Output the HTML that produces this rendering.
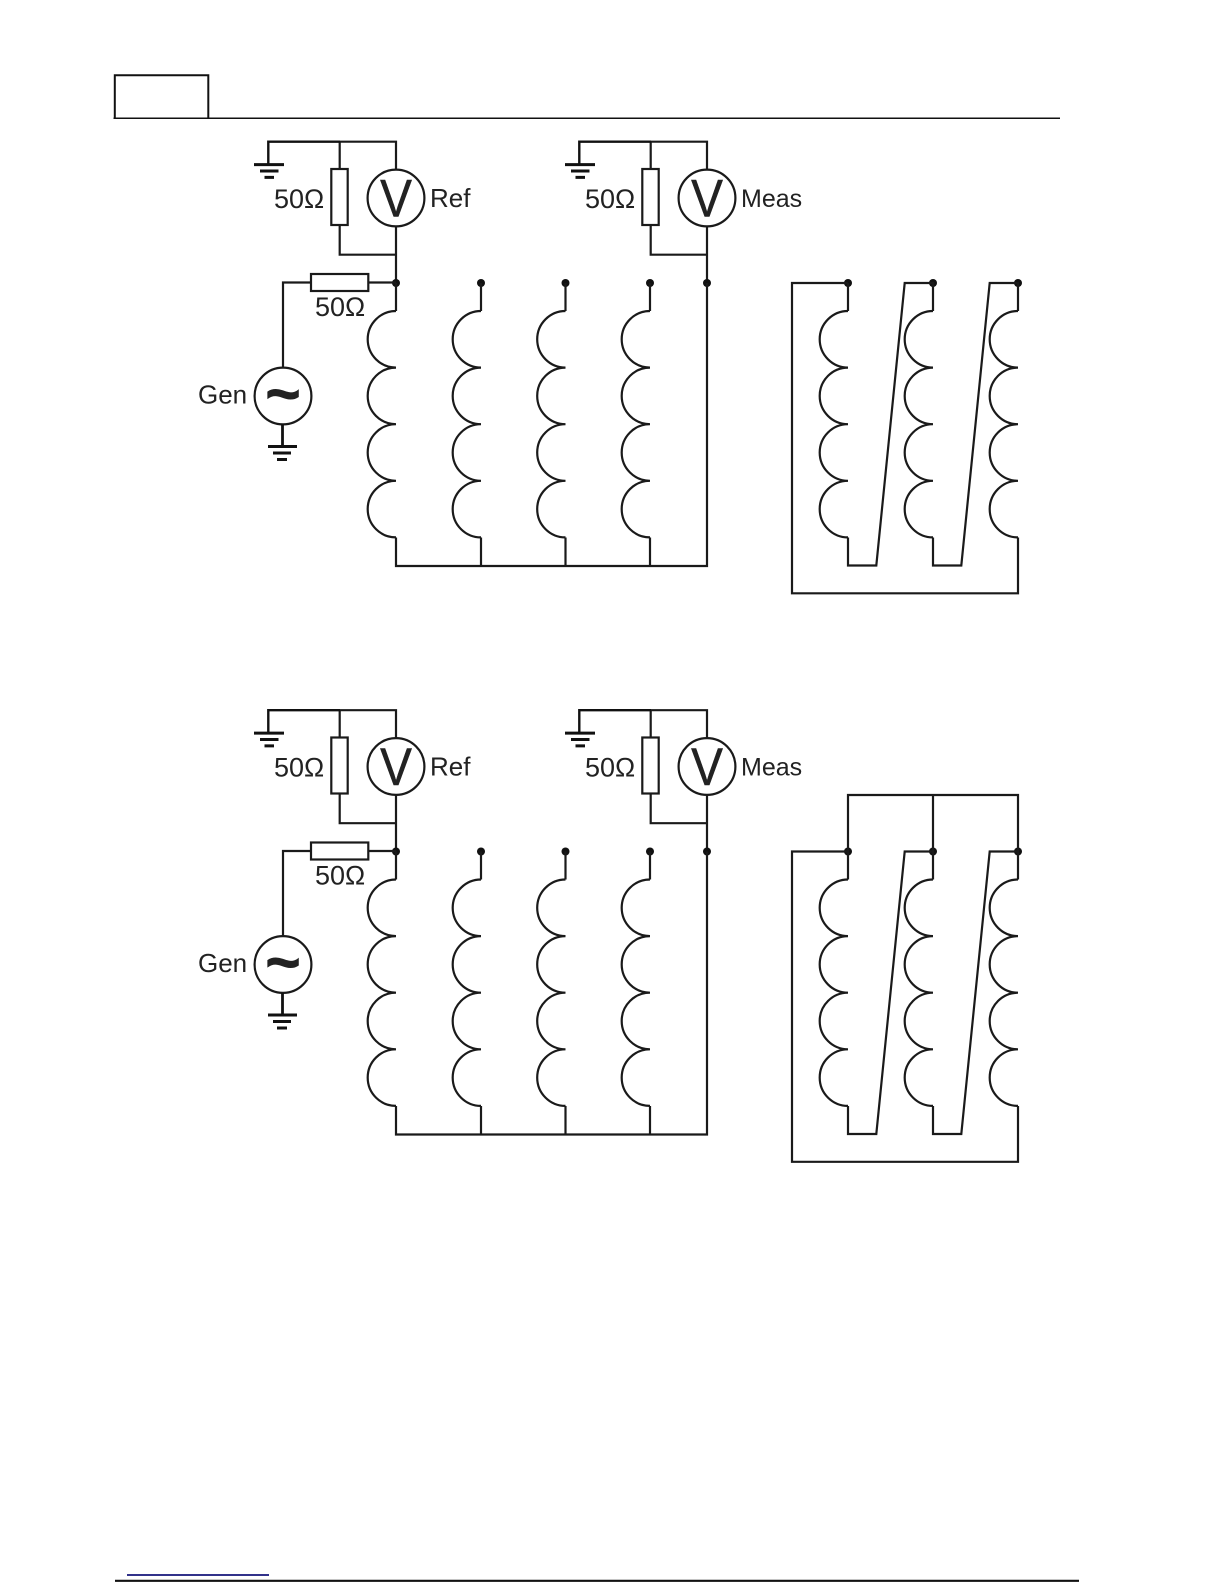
<!DOCTYPE html>
<html><head><meta charset="utf-8"><style>
html,body{margin:0;padding:0;background:#fff;width:1224px;height:1584px;overflow:hidden}
svg{display:block}
text{font-family:"Liberation Sans",sans-serif;fill:#222}
.w{fill:none;stroke:#1a1a1a;stroke-width:2.2}
.g{fill:none;stroke:#111;stroke-width:3}
</style></head><body>
<svg width="1224" height="1584" viewBox="0 0 1224 1584" xmlns="http://www.w3.org/2000/svg">
<defs>
<path id="coil" d="M0 0A28.3 28.3 0 0 0 0 56.6A28.3 28.3 0 0 0 0 113.2A28.3 28.3 0 0 0 0 169.8A28.3 28.3 0 0 0 0 226.4"/>
<g id="meter">
<path class="w" d="M339.7 141.7H396V170M339.7 141.7V169M339.7 225V254.7H396M396 226V283"/>
<path d="M268.3 165V141.7H340" fill="none" stroke="#111" stroke-width="2.400"/>
<rect class="w" x="331.300" y="169" width="16.400" height="56" fill="#fff"/>
<circle class="w" cx="396" cy="198" r="28.400"/>
<path class="g" d="M254 164.600H284M260 171H278.500M264.500 177.400H274"/>
</g>
<g id="sch">
<use href="#meter"/>
<use href="#meter" x="311"/>
<circle cx="396" cy="283" r="4" fill="#111"/>
<circle cx="481" cy="283" r="4" fill="#111"/>
<circle cx="565.500" cy="283" r="4" fill="#111"/>
<circle cx="650" cy="283" r="4" fill="#111"/>
<circle cx="707" cy="283" r="4" fill="#111"/>
<path class="w" d="M396 283V311M481 283V311M565.500 283V311M650 283V311M707 283V566H396V537.500M481 566V537.500M565.500 566V537.500M650 566V537.500"/>
<g class="w"><use href="#coil" x="396" y="311"/><use href="#coil" x="481" y="311"/><use href="#coil" x="565.500" y="311"/><use href="#coil" x="650" y="311"/></g>
<path class="w" d="M311 282.500H283V367.500M368.300 282.500H396"/>
<rect class="w" x="311" y="274" width="57.300" height="17"/>
<circle class="w" cx="283" cy="396" r="28.400"/>
<path d="M282.500 424.500V446" fill="none" stroke="#111" stroke-width="2.800"/>
<path class="g" d="M268 446.500H297M273 453H291M277 459.500H287"/>
<circle cx="848" cy="283" r="4" fill="#111"/>
<circle cx="933" cy="283" r="4" fill="#111"/>
<circle cx="1018" cy="283" r="4" fill="#111"/>
<path class="w" d="M848 283H792V593.300H1018V537.500M848 283V311M848 537.500V565.500H876.300L904.700 283H933V311M933 537.500V565.500H961.300L989.700 283H1018V311"/>
<g class="w"><use href="#coil" x="848" y="311"/><use href="#coil" x="933" y="311"/><use href="#coil" x="1018" y="311"/></g>
</g>
</defs>
<path d="M114.800 118.300V75.200H208.300V118.300" fill="none" stroke="#111" stroke-width="2"/>
<path d="M113.500 118.300H1060" stroke="#111" stroke-width="1.500" fill="none"/>
<use href="#sch"/>
<use href="#sch" y="568.500"/>
<path d="M848 851.500V795H1018V851.500M933 795V851.500" class="w"/>
<g font-size="27">
<text x="274" y="208">50Ω</text><text x="585" y="208">50Ω</text><text x="315" y="316">50Ω</text>
<text x="274" y="776.500">50Ω</text><text x="585" y="776.500">50Ω</text><text x="315" y="884.500">50Ω</text>
</g>
<g font-size="26">
<text x="430" y="207">Ref</text><text x="198" y="403.500">Gen</text>
<text x="430" y="775.500">Ref</text><text x="198" y="972">Gen</text>
<text x="741" y="207" font-size="25">Meas</text><text x="741" y="775.500" font-size="25">Meas</text>
</g>
<g font-size="53" text-anchor="middle" stroke="#222" stroke-width="0.500">
<text transform="translate(396 216.500) scale(.9 1)">V</text><text transform="translate(707 216.500) scale(.9 1)">V</text>
<text transform="translate(396 785) scale(.9 1)">V</text><text transform="translate(707 785) scale(.9 1)">V</text>
</g>
<g font-size="60" font-weight="bold" text-anchor="middle" stroke="#222" stroke-width="1">
<text x="283" y="414">~</text><text x="283" y="982.500">~</text>
</g>
<path d="M127 1575H269" stroke="#14147a" stroke-width="1.800"/>
<path d="M115 1580.800H1079" stroke="#111" stroke-width="2.200"/>
</svg>
</body></html>
